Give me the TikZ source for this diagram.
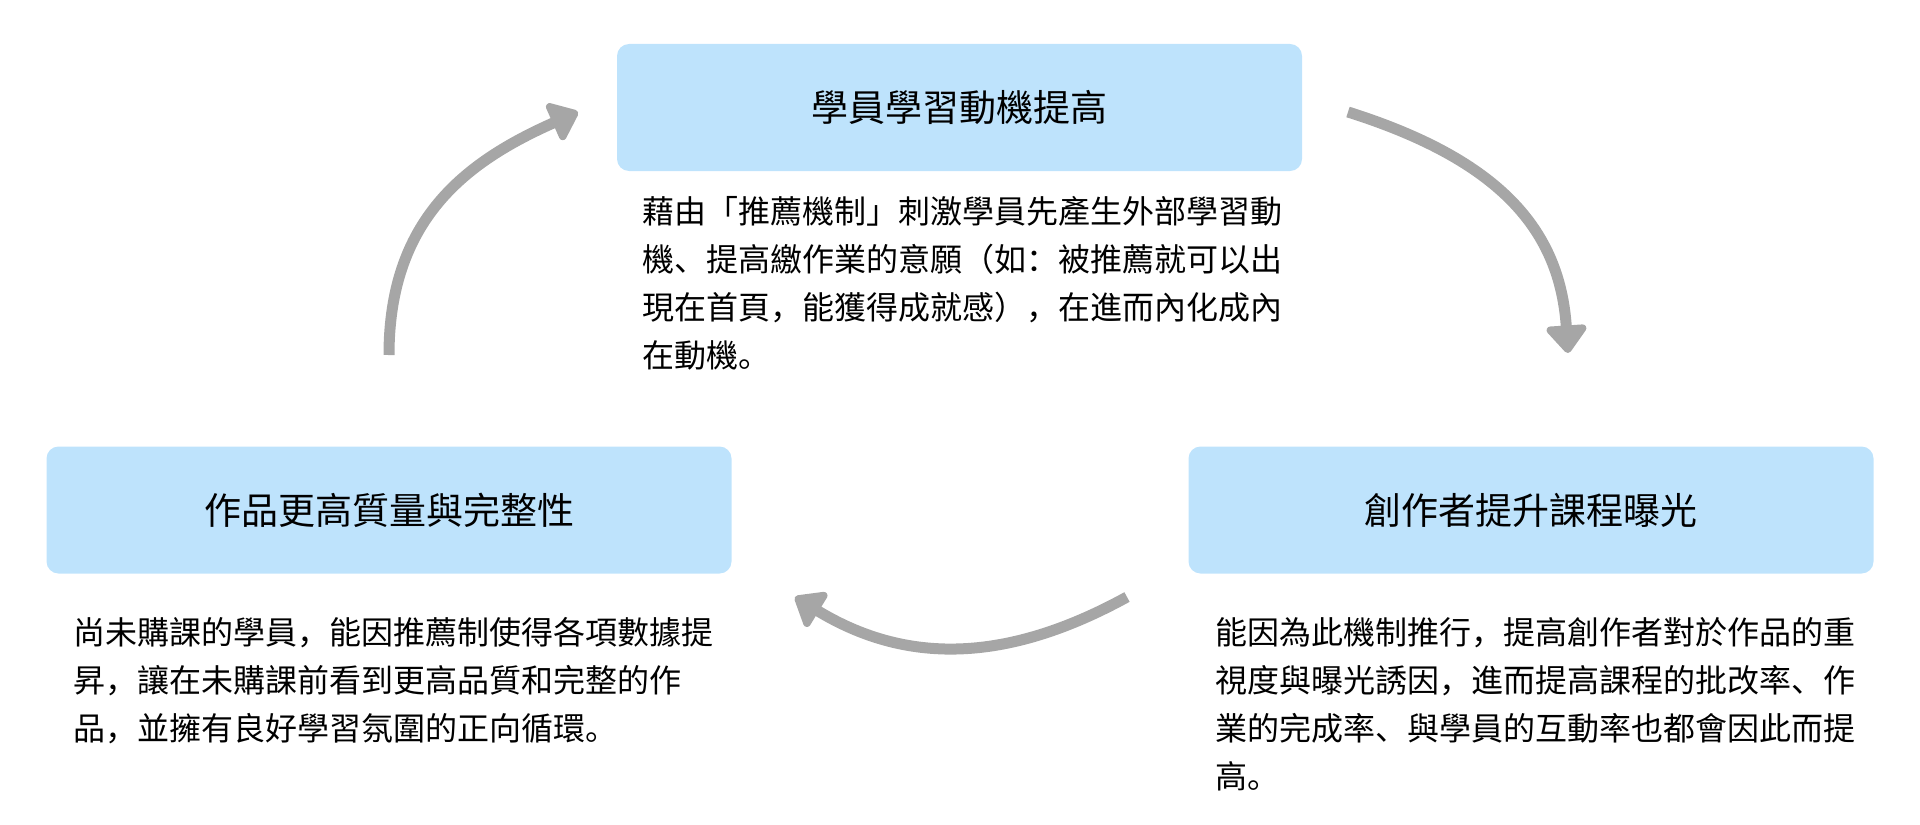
\documentclass[tikz,border=0pt]{standalone}
\usepackage{fontspec}
\newfontfamily\cjk{Noto Sans CJK SC}
\usepackage{xcolor}
\usetikzlibrary{arrows.meta,positioning}
\definecolor{boxblue}{HTML}{BEE3FC}
\definecolor{loopgray}{HTML}{A6A6A6}

\begin{document}
\begin{tikzpicture}[x=0.5pt,y=-0.5pt,node distance=12pt,
  every node/.style={font=\cjk,inner sep=0pt},
  box/.style={fill=boxblue,rounded corners=6pt,minimum width=342.5pt,minimum height=63.5pt,font=\cjk\fontsize{18.5}{22}\selectfont},
  note/.style={align=left,font=\cjk\fontsize{16}{24}\selectfont},
  loop/.style={draw=loopgray,line width=5.5pt,-{Triangle[width=23pt,length=15pt,round]}}]
\useasboundingbox (0,0) rectangle (1920,824);
% the three stages of the cycle
\node[box] (motive) at (959.5,107.5) {學員學習動機提高};
\node[box] (quality) at (389,510) {作品更高質量與完整性};
\node[box] (exposure) at (1531,510) {創作者提升課程曝光};
% explanations under each stage
\node[note,below=12.5pt of motive.south west,anchor=north west,xshift=12.5pt] (motivetxt)
  {藉由「推薦機制」刺激學員先產生外部學習動\\機、提高繳作業的意願（如：被推薦就可以出\\現在首頁，能獲得成就感），在進而內化成內\\在動機。};
\node[note,below=21.5pt of quality.south west,anchor=north west,xshift=13.5pt] (qualitytxt)
  {尚未購課的學員，能因推薦制使得各項數據提\\昇，讓在未購課前看到更高品質和完整的作\\品，並擁有良好學習氛圍的正向循環。};
\node[note,below=21.5pt of exposure.south west,anchor=north west,xshift=13.5pt] (exposuretxt)
  {能因為此機制推行，提高創作者對於作品的重\\視度與曝光誘因，進而提高課程的批改率、作\\業的完成率、與學員的互動率也都會因此而提\\高。};
% cycle arrows
\coordinate (m2e) at (1348,112);
\coordinate (e2m) at (1568,353);
\coordinate (e2q) at (1127,597);
\coordinate (q2e) at (795,597);
\coordinate (q2m) at (389,355);
\coordinate (m2q) at (578,112);
\draw[loop] (m2e) .. controls (1500,160) and (1560,230) .. (e2m);
\draw[loop] (e2q) .. controls (1005,664) and (905,664) .. (q2e);
\draw[loop] (q2m) .. controls (389,220) and (465,162) .. (m2q);
\end{tikzpicture}
\end{document}
